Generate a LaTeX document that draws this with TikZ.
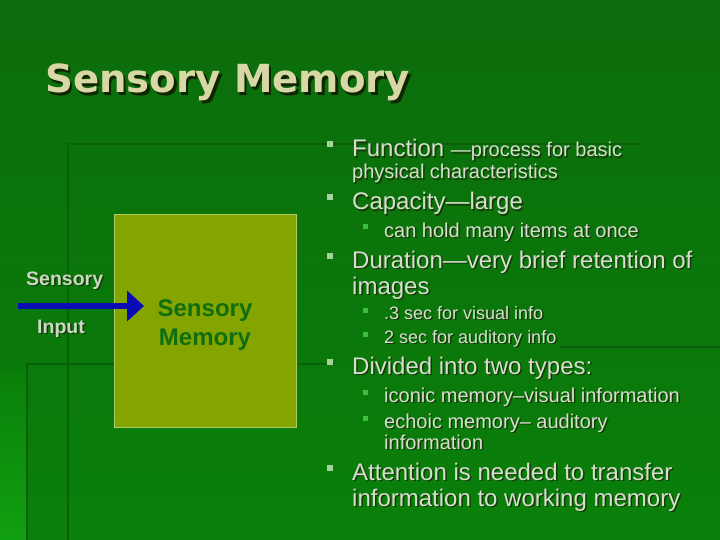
\documentclass[tikz,border=0pt]{standalone}
\usepackage{fontspec}
\setmainfont{Liberation Sans}
\newfontfamily\headfont{DejaVu Sans}
\usetikzlibrary{arrows.meta}

\definecolor{bgtop}{HTML}{0B6C0B}
\definecolor{bgbottom}{HTML}{0A800A}
\definecolor{bglight}{HTML}{10A010}
\definecolor{bgdark}{HTML}{0A600A}
\definecolor{txtlight}{HTML}{D6DECE}
\definecolor{txtshadow}{HTML}{143A06}
\definecolor{titlecol}{HTML}{D8D8A6}
\definecolor{titleshadow}{HTML}{112500}
\definecolor{bulletlight}{HTML}{A4D49C}
\definecolor{bulletgreen}{HTML}{3CC03C}
\definecolor{boxfill}{HTML}{84A400}
\definecolor{boxedge}{HTML}{ACCC66}
\definecolor{memtext}{HTML}{0F6E0F}
\definecolor{inputtext}{HTML}{CAD8C2}
\definecolor{arrowblue}{HTML}{0C0CB4}

% text with a drop shadow
\newcommand\slidetext[4]{%
  \node[#1,text=txtshadow,xshift=1.5pt,yshift=-1.5pt] (#3-sh) at (#2) {#4};
  \node[#1] (#3) at (#2) {#4};}

\begin{document}
\begin{tikzpicture}[x=1pt,y=-1pt,
  body/.style={anchor=base west,inner sep=0pt,text=txtlight,font=\fontsize{24}{28}\selectfont},
  subbody/.style={body,font=\fontsize{20}{24}\selectfont},
  tinybody/.style={body,font=\fontsize{18}{22}\selectfont},
  bulletone/.style={fill=bulletlight,minimum size=6pt,inner sep=0pt},
  bullettwo/.style={fill=bulletgreen,minimum size=5pt,inner sep=0pt},
  membox/.style={draw=boxedge,fill=boxfill,line width=1pt,minimum width=182pt,minimum height=212pt,inner sep=0pt},
  memlabel/.style={anchor=base,inner sep=0pt,text=memtext,font=\bfseries\fontsize{24}{28}\selectfont},
  inlabel/.style={anchor=base west,inner sep=0pt,text=inputtext,font=\bfseries\fontsize{19.5}{23}\selectfont},
  bgline/.style={line width=2pt,draw=bgdark},
  inarrow/.style={draw=arrowblue,line width=6pt,-{Triangle[length=17pt,width=30pt]}}]

\useasboundingbox (0,0) rectangle (720,540);
\shade[top color=bgtop,bottom color=bgbottom] (0,0) rectangle (720,540);
\shade[top color=bgbottom,bottom color=bglight] (0,372) rectangle (26,540);
\draw[bgline] (67,144) -- (640,144);
\draw[bgline] (68,144) -- (68,540);
\draw[bgline] (27,364) -- (27,540);
\draw[bgline] (27,364) -- (335,364);
\draw[bgline] (560,347) -- (720,347);

% title
\node[anchor=base west,inner sep=0pt,text=titleshadow,font=\headfont\bfseries\fontsize{38.7}{44}\selectfont] (title-sh) at (47.5,95.5) {Sensory Memory};
\node[anchor=base west,inner sep=0pt,text=titlecol,font=\headfont\bfseries\fontsize{38.7}{44}\selectfont] (title) at (45,93) {Sensory Memory};

% left diagram
\node[membox] (memory) at (205,321) {};
\node[memlabel] (memTop) at (205,316.7) {Sensory};
\node[memlabel] (memBottom) at (205,345) {Memory};

\slidetext{inlabel}{26,285}{inTop}{Sensory}
\slidetext{inlabel}{37,333}{inBottom}{Input}

\coordinate (inTail) at (18,306);
\coordinate (inHead) at (144,306);
\draw[inarrow] (inTail) -- (inHead);

% bullets
\node[bulletone] (b1) at (330,144.5) {};
\node[bulletone] (b2) at (330,197.5) {};
\node[bullettwo] (b3) at (365.5,227) {};
\node[bulletone] (b4) at (330,255.5) {};
\node[bullettwo] (b5) at (365.5,310.5) {};
\node[bullettwo] (b6) at (365.5,334.5) {};
\node[bulletone] (b7) at (330,361.5) {};
\node[bullettwo] (b8) at (365.5,392) {};
\node[bullettwo] (b9) at (365.5,418) {};
\node[bulletone] (b10) at (330,467.5) {};

% text
\slidetext{body}{352,157}{function}{Function \fontsize{20}{24}\selectfont—process for basic}
\slidetext{subbody}{352,179}{physical}{physical characteristics}
\slidetext{body}{352,210}{capacity}{Capacity—large}
\slidetext{subbody}{384,237}{many}{can hold many items at once}
\slidetext{body}{352,268}{duration}{Duration—very brief retention of}
\slidetext{body}{352,294}{images}{images}
\slidetext{tinybody}{384,319}{visual}{.3 sec for visual info}
\slidetext{tinybody}{384,343}{auditory}{2 sec for auditory info}
\slidetext{body}{352,374}{divided}{Divided into two types:}
\slidetext{subbody}{384,402}{iconic}{iconic memory–visual information}
\slidetext{subbody}{384,428}{echoic}{echoic memory– auditory}
\slidetext{subbody}{384,449}{echoicB}{information}
\slidetext{body}{352,480}{attention}{Attention is needed to transfer}
\slidetext{body}{352,506}{attentionB}{information to working memory}
\end{tikzpicture}
\end{document}
